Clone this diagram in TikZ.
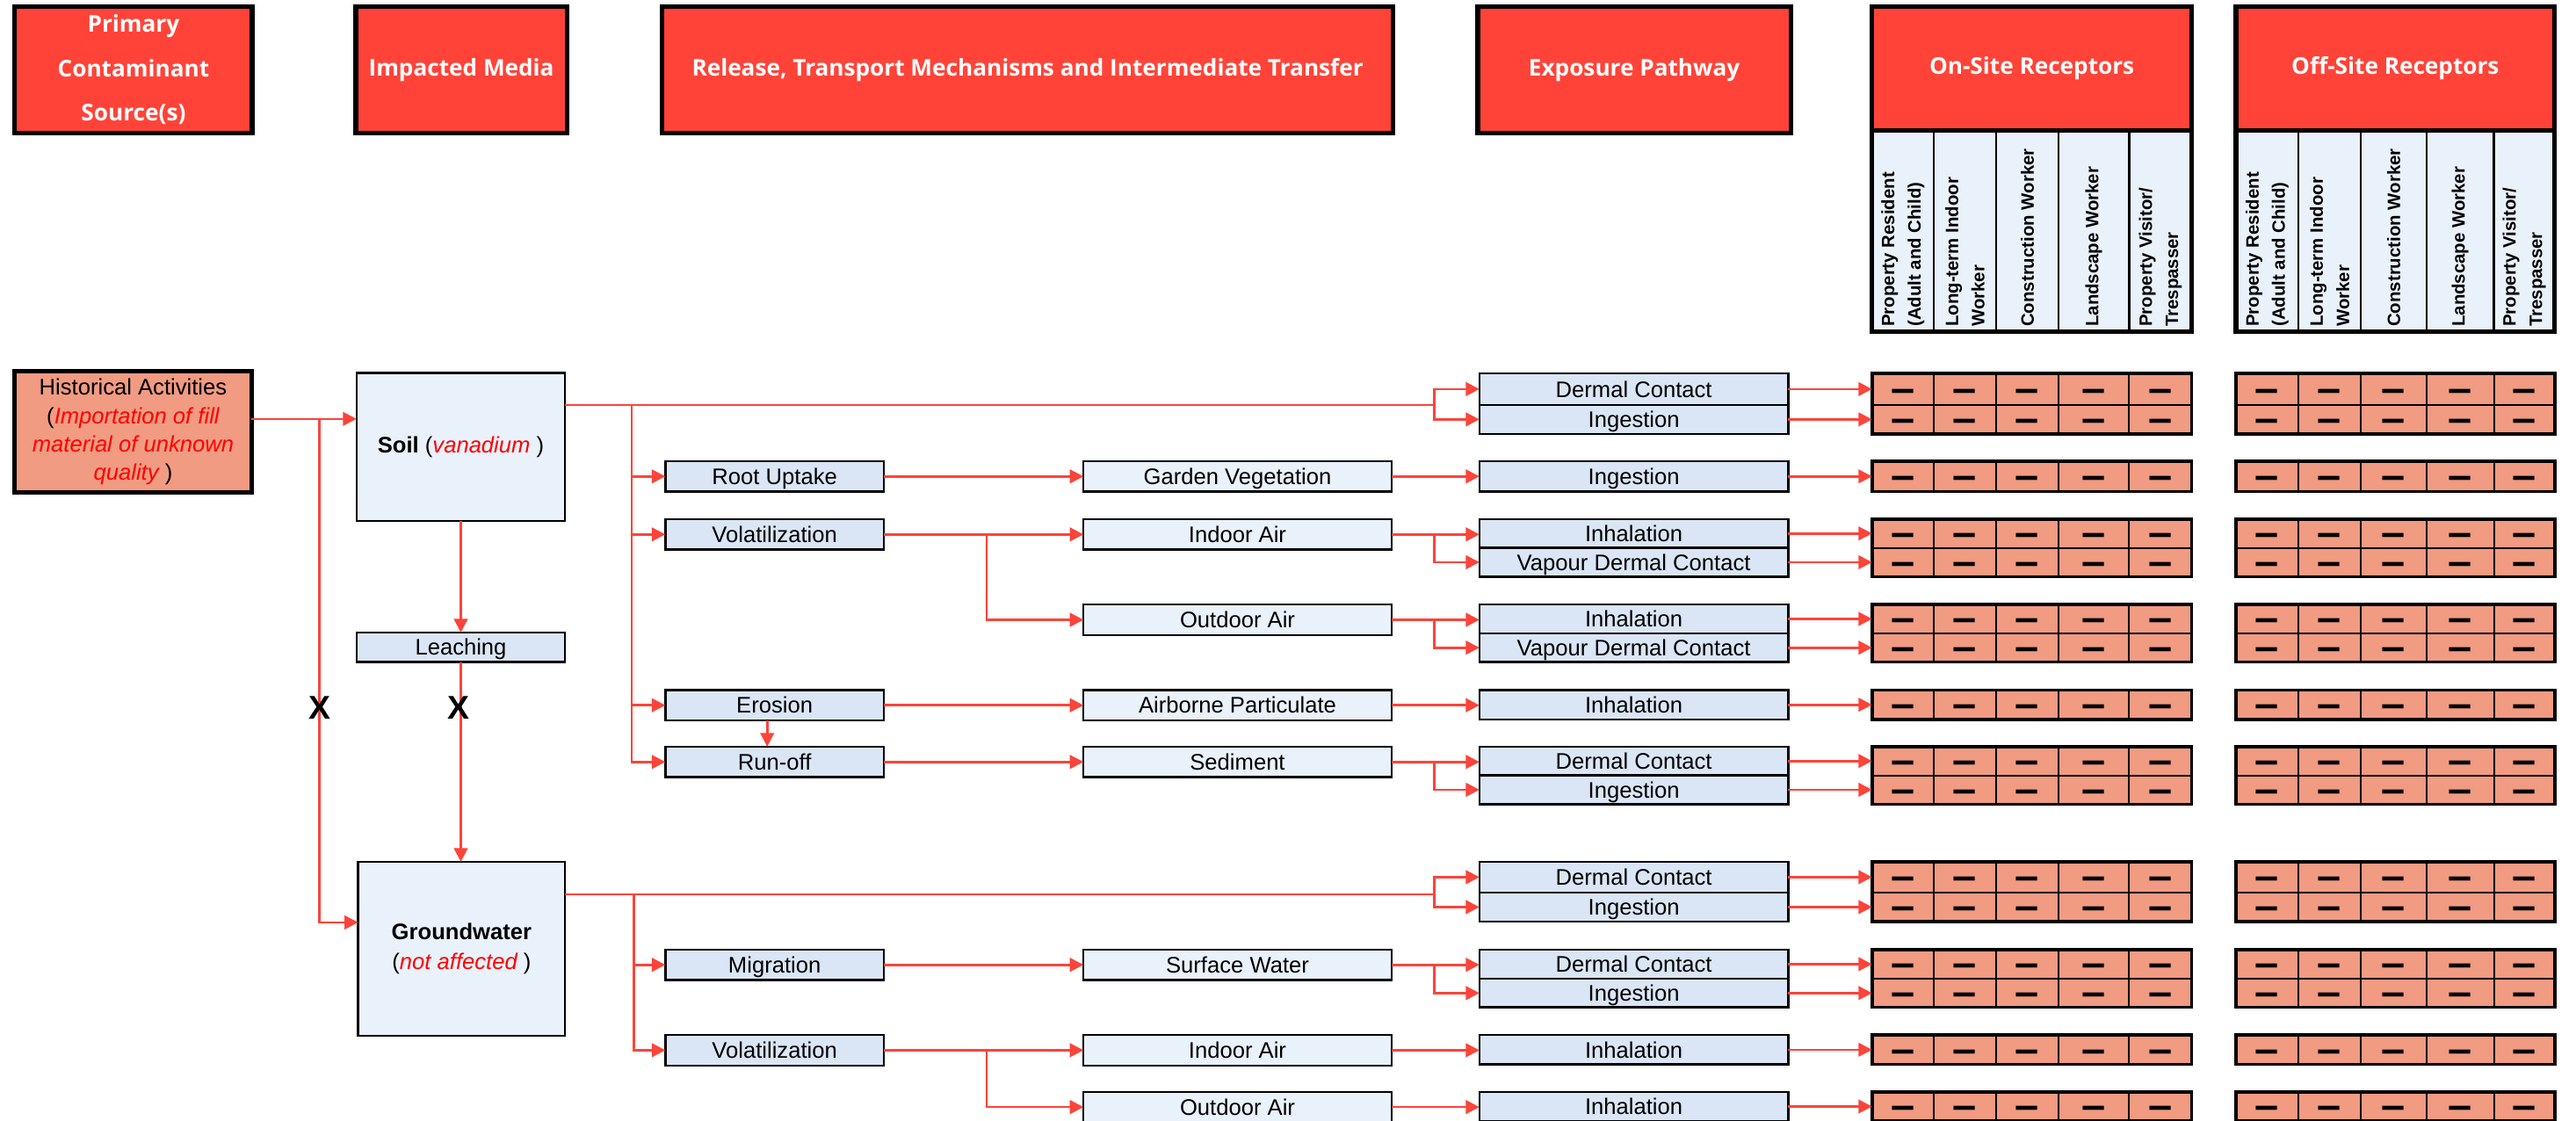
\documentclass[tikz,border=0pt]{standalone}
\usepackage{fontspec}
\usepackage{graphicx}
\setmainfont{Liberation Sans}
\newfontfamily\hdrfont{Open Sans}
\newfontfamily\dashfont{DejaVu Sans}
\usetikzlibrary{arrows.meta}
\definecolor{hdrred}{RGB}{255,67,56}
\definecolor{linered}{RGB}{251,68,58}
\definecolor{salmon}{RGB}{240,155,130}
\definecolor{bluebox}{RGB}{218,230,245}
\definecolor{paleblue}{RGB}{233,241,251}
\definecolor{txtred}{RGB}{255,0,0}
\begin{document}
\begin{tikzpicture}[x=1pt,y=-1pt,
 hdr/.style={draw=black,line width=2.8pt,fill=hdrred,text=white,font=\hdrfont\bfseries\fontsize{14}{27}\selectfont,align=center,inner sep=0pt,outer sep=0pt,anchor=north west},
 bx/.style={draw=black,line width=1.3pt,inner sep=0pt,outer sep=0pt,anchor=north west,font=\fontsize{13.7}{17.3}\selectfont,align=center},
 single/.style={text height=9.8pt,text depth=0pt},
 mech/.style={bx,single,fill=bluebox,minimum width=133,minimum height=18.6},
 inter/.style={bx,single,fill=paleblue,minimum width=187.5,minimum height=18.6},
 expo/.style={bx,single,fill=bluebox,minimum width=188},
 cell/.style={draw=black,line width=1.1pt,fill=salmon,inner sep=0pt,outer sep=0pt,anchor=north west},
 colhd/.style={draw=black,line width=1.2pt,fill=paleblue,inner sep=0pt,outer sep=0pt,anchor=north west},
 frame/.style={draw=black,line width=1.9pt},
 rlab/.style={rotate=90,anchor=west,align=left,inner sep=0pt,font=\bfseries\fontsize{10.9}{16}\selectfont},
 ln/.style={draw=linered,line width=1.4pt},
 arr/.style={ln,-{Triangle[length=8.3pt,width=8.3pt]}},
 xmark/.style={font=\bfseries\fontsize{20}{20}\selectfont,inner sep=0pt},
 dsh/.style={font=\dashfont\bfseries\fontsize{14.5}{14.5}\selectfont,inner sep=0pt,anchor=base}
]
\fill[white] (0,0) rectangle (1568,682);
\useasboundingbox (0,0) rectangle (1568,682);

% ---------- headers ----------
\node[hdr,minimum width=144.5,minimum height=77] (hPrim) at (9,4) {Primary\\Contaminant\\Source(s)};
\node[hdr,minimum width=128.4,minimum height=77] (hImp) at (216.6,4) {Impacted Media};
\node[hdr,minimum width=445,minimum height=77] (hRel) at (403,4) {Release, Transport Mechanisms and Intermediate Transfer};
\node[hdr,minimum width=190.5,minimum height=77] (hExp) at (899.5,4) {Exposure Pathway};

\foreach \i/\xa/\xb/\lab in {1/1139.5/1177/{Property Resident\\(Adult and Child)},2/1177/1215/{Long-term Indoor\\Worker},3/1215/1253/{Construction Worker},4/1253/1296/{Landscape Worker},5/1296/1334/{Property Visitor/\\Trespasser}}{
  \node[colhd,minimum width={\xb-\xa},minimum height=122.5] (on\i) at (\xa,79.5) {};
  \node[rlab] (onl\i) at ({(\xa+\xb)/2},199) {\lab};
}
\foreach \i/\xa/\xb/\lab in {1/1361/1399/{Property Resident\\(Adult and Child)},2/1399/1437/{Long-term Indoor\\Worker},3/1437/1477/{Construction Worker},4/1477/1518/{Landscape Worker},5/1518/1555/{Property Visitor/\\Trespasser}}{
  \node[colhd,minimum width={\xb-\xa},minimum height=122.5] (off\i) at (\xa,79.5) {};
  \node[rlab] (offl\i) at ({(\xa+\xb)/2},199) {\lab};
}
\node[hdr,minimum width=194.5,minimum height=75.5] (hOn) at (1139.5,4) {On-Site Receptors};
\node[hdr,minimum width=194,minimum height=75.5] (hOff) at (1361,4) {Off-Site Receptors};
\draw[line width=2.8pt] (hOn.north west) rectangle (on5.south east);
\draw[line width=2.8pt] (hOff.north west) rectangle (off5.south east);

% ---------- media ----------
\node[bx,fill=salmon,line width=2.7pt,minimum width=144,minimum height=74] (hist) at (9,226)
 {Historical Activities\\(\textcolor{txtred}{\itshape Importation of fill}\\\textcolor{txtred}{\itshape material of unknown}\\\textcolor{txtred}{\itshape quality} )};
\node[bx,fill=paleblue,minimum width=127,minimum height=90] (soil) at (217,227)
 {{\bfseries Soil} (\textcolor{txtred}{\itshape vanadium} )};
\node[bx,single,fill=bluebox,minimum width=127,minimum height=18] (leach) at (217,385) {Leaching};
\node[bx,fill=paleblue,minimum width=126,minimum height=106,font=\fontsize{13.7}{18.5}\selectfont] (gw) at (218,524.6)
 {{\bfseries Groundwater}\\(\textcolor{txtred}{\itshape not affected} )};

% ---------- mechanisms ----------
\node[mech] (root) at (405,280.7) {Root Uptake};
\node[mech] (volS) at (405,316) {Volatilization};
\node[mech] (eros) at (405,420) {Erosion};
\node[mech] (runoff) at (405,454.5) {Run-off};
\node[mech] (migr) at (405,578) {Migration};
\node[mech] (volG) at (405,630) {Volatilization};

\node[inter] (garden) at (659.5,280.7) {Garden Vegetation};
\node[inter] (indS) at (659.5,316) {Indoor Air};
\node[inter] (outS) at (659.5,368) {Outdoor Air};
\node[inter] (airb) at (659.5,420) {Airborne Particulate};
\node[inter] (sed) at (659.5,454.5) {Sediment};
\node[inter] (surf) at (659.5,578) {Surface Water};
\node[inter] (indG) at (659.5,630) {Indoor Air};
\node[inter] (outG) at (659.5,664.6) {Outdoor Air};

% ---------- exposure pathways and receptor cells ----------
\foreach \n/\t/\h/\lab in {1/227.3/19.1/Dermal Contact,2/246.4/17.8/Ingestion,3/280.7/18.6/Ingestion,
 4/316/17.5/Inhalation,5/333.5/17.5/Vapour Dermal Contact,6/368/17.5/Inhalation,7/385.5/17.5/Vapour Dermal Contact,
 8/420/18/Inhalation,9/454.5/17.5/Dermal Contact,10/472/17.5/Ingestion,11/524.6/18.7/Dermal Contact,
 12/543.3/17.7/Ingestion,13/578/17.8/Dermal Contact,14/595.8/17.4/Ingestion,15/630/18/Inhalation,16/664.6/17.9/Inhalation}{
  \node[expo,minimum height=\h] (e\n) at (900.5,\t) {\lab};
  \foreach \i/\xa/\xb in {1/1139.5/1177,2/1177/1215,3/1215/1253,4/1253/1296,5/1296/1334}{
    \node[cell,minimum width={\xb-\xa},minimum height=\h] (c\n-\i) at (\xa,\t) {};
    \node[dsh] at ([yshift=-6.6pt]c\n-\i.center) {\scalebox{1}[1.35]{—}};
  }
  \foreach \i/\xa/\xb in {1/1361/1399,2/1399/1437,3/1437/1477,4/1477/1518,5/1518/1555}{
    \node[cell,minimum width={\xb-\xa},minimum height=\h] (d\n-\i) at (\xa,\t) {};
    \node[dsh] at ([yshift=-6.6pt]d\n-\i.center) {\scalebox{1}[1.35]{—}};
  }
}
\foreach \a/\b in {1/2,3/3,4/5,6/7,8/8,9/10,11/12,13/14,15/15,16/16}{
  \draw[frame] (c\a-1.north west) rectangle (c\b-5.south east);
  \draw[frame] (d\a-1.north west) rectangle (d\b-5.south east);
}

% ---------- connectors ----------
\coordinate (bus) at (873,0);
\coordinate (vbx) at (600.5,0);
\coordinate (j1) at (194.5,255);
\coordinate (j2) at (194.5,561.5);
\coordinate (sV) at (384.5,246.5);
\coordinate (sB) at (873,246.5);
\coordinate (gV) at (386,544.5);
\coordinate (gB) at (873,544.5);

\draw[arr] (hist.east |- j1) -- (soil.west |- j1);
\draw[arr] (j1) -- (j2) -- (gw.west |- j2);
\draw[arr] (soil.south) -- (leach.north);
\draw[arr] (leach.south) -- (leach.south |- gw.north);

\draw[ln] (soil.east |- sB) -- (sB);
\draw[arr] (sB) |- (e1.west);
\draw[arr] (sB) |- (e2.west);
\draw[arr] (sV) |- (root.west);
\draw[arr] (sV) |- (volS.west);
\draw[arr] (sV) |- (eros.west);
\draw[arr] (sV) |- (runoff.west);

\draw[arr] (root.east) -- (garden.west);
\draw[arr] (garden.east) -- (garden.east -| e3.west);
\draw[arr] (volS.east) -- (indS.west);
\draw[arr] (volS.east -| vbx) |- (outS.west);
\draw[arr] (indS.east) -- (indS.east -| e4.west);
\draw[arr] (indS.east -| bus) |- (e5.west);
\draw[arr] (outS.east) -- (outS.east -| e6.west);
\draw[arr] (outS.east -| bus) |- (e7.west);
\draw[arr] (eros.east) -- (airb.west);
\draw[arr] (airb.east) -- (airb.east -| e8.west);
\draw[arr] ([xshift=-4.5pt]eros.south) -- ([xshift=-4.5pt]runoff.north);
\draw[arr] (runoff.east) -- (sed.west);
\draw[arr] (sed.east) -- (sed.east -| e9.west);
\draw[arr] (sed.east -| bus) |- (e10.west);

\draw[ln] (gw.east |- gB) -- (gB);
\draw[arr] (gB) |- (e11.west);
\draw[arr] (gB) |- (e12.west);
\draw[arr] (gV) |- (migr.west);
\draw[arr] (gV) |- (volG.west);
\draw[arr] (migr.east) -- (surf.west);
\draw[arr] (surf.east) -- (surf.east -| e13.west);
\draw[arr] (surf.east -| bus) |- (e14.west);
\draw[arr] (volG.east) -- (indG.west);
\draw[arr] (volG.east -| vbx) |- (outG.west);
\draw[arr] (indG.east) -- (indG.east -| e15.west);
\draw[arr] (outG.east) -- (outG.east -| e16.west);

\foreach \n in {1,...,16}{
  \draw[arr] (e\n.east) -- (e\n.east -| c\n-1.west);
}

\node[xmark] (x1) at (194.5,431) {X};
\node[xmark] (x2) at (279,431) {X};
\end{tikzpicture}
\end{document}
